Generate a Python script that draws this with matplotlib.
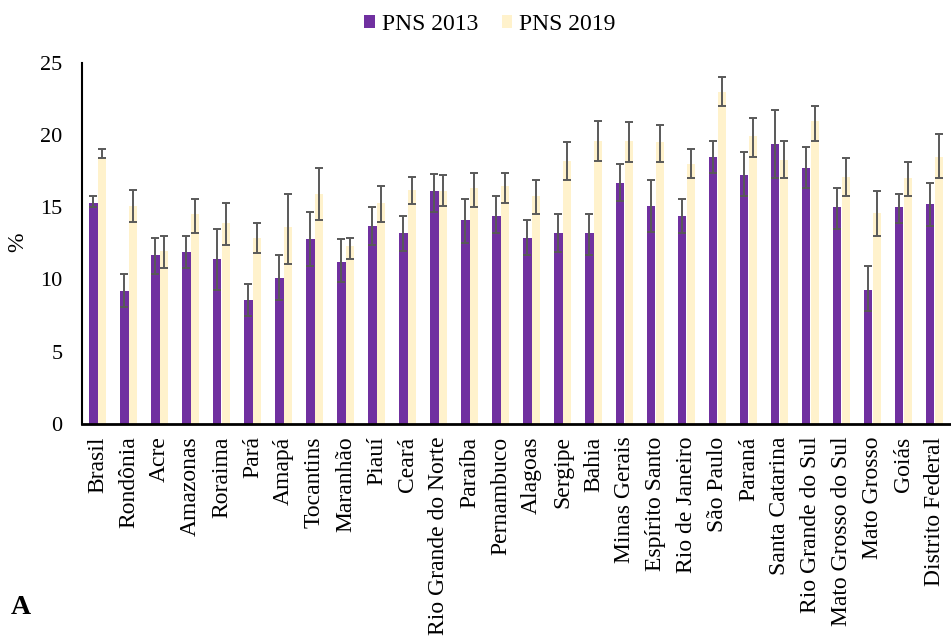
import numpy as np
import matplotlib
matplotlib.use("Agg")
import matplotlib.pyplot as plt

plt.rcParams['font.family'] = ['Liberation Serif', 'DejaVu Serif']

# Prevalence (%) by region with 95% confidence bounds
regions = ["Brasil", "Rondônia", "Acre", "Amazonas", "Roraima", "Pará", "Amapá",
           "Tocantins", "Maranhão", "Piauí", "Ceará", "Rio Grande do Norte",
           "Paraíba", "Pernambuco", "Alagoas", "Sergipe", "Bahia", "Minas Gerais",
           "Espírito Santo", "Rio de Janeiro", "São Paulo", "Paraná",
           "Santa Catarina", "Rio Grande do Sul", "Mato Grosso do Sul",
           "Mato Grosso", "Goiás", "Distrito Federal"]

pns2013 = [15.3, 9.2, 11.7, 11.9, 11.4, 8.6, 10.1, 12.8, 11.2, 13.7, 13.2, 16.1,
           14.1, 14.4, 12.9, 13.2, 13.2, 16.7, 15.1, 14.4, 18.5, 17.2, 19.4, 17.7,
           15.0, 9.3, 15.0, 15.2]
pns2013_lo = [15.0, 8.1, 10.4, 10.8, 9.3, 7.5, 8.6, 10.9, 9.8, 12.4, 12.0, 14.7,
              12.5, 13.2, 11.7, 11.9, 11.7, 15.4, 13.3, 13.2, 17.4, 15.8, 17.0,
              16.3, 13.5, 7.8, 13.9, 13.7]
pns2013_hi = [15.8, 10.4, 12.9, 13.0, 13.5, 9.7, 11.7, 14.7, 12.8, 15.0, 14.4,
              17.3, 15.6, 15.8, 14.1, 14.5, 14.5, 18.0, 16.9, 15.6, 19.6, 18.8,
              21.7, 19.2, 16.3, 10.9, 15.9, 16.7]

pns2019 = [18.5, 15.1, 12.0, 14.5, 13.9, 12.9, 13.6, 15.9, 12.3, 15.3, 16.2, 16.1,
           16.3, 16.5, 15.8, 18.2, 19.6, 19.6, 19.5, 18.0, 23.0, 19.9, 18.3, 21.0,
           17.1, 14.6, 17.0, 18.5]
pns2019_lo = [18.4, 14.0, 10.8, 13.2, 12.4, 11.8, 11.1, 14.1, 11.4, 14.0, 15.2,
              15.1, 15.0, 15.3, 14.5, 16.9, 18.2, 18.1, 18.1, 17.0, 22.0, 18.5,
              17.0, 19.6, 15.8, 13.0, 15.8, 17.0]
pns2019_hi = [19.0, 16.2, 13.0, 15.6, 15.3, 13.9, 15.9, 17.7, 12.9, 16.5, 17.1,
              17.2, 17.4, 17.4, 16.9, 19.5, 21.0, 20.9, 20.7, 19.0, 24.0, 21.2,
              19.6, 22.0, 18.4, 16.1, 18.1, 20.1]

yticks = [0, 5, 10, 15, 20, 25]

purple = "#7030A0"
cream = "#FFF2CC"
err_color = "#595959"

W, H = 951, 643
fig = plt.figure(figsize=(W / 100, H / 100), dpi=100)
ax = fig.add_axes([82 / W, 1 - 424 / H, (950 - 82) / W, (424 - 62.7) / H])

x = np.arange(len(regions))
w = 0.27
off = 0.135

a13 = np.array(pns2013)
a19 = np.array(pns2019)
err13 = [a13 - np.array(pns2013_lo), np.array(pns2013_hi) - a13]
err19 = [a19 - np.array(pns2019_lo), np.array(pns2019_hi) - a19]

ax.bar(x - off, a13, width=w, color=purple, label="PNS 2013", zorder=2)
ax.bar(x + off, a19, width=w, color=cream, label="PNS 2019", zorder=2)
ax.errorbar(x - off, a13, yerr=err13, fmt='none', ecolor=err_color,
            elinewidth=1.4, capsize=3.2, capthick=1.4, zorder=3)
ax.errorbar(x + off, a19, yerr=err19, fmt='none', ecolor=err_color,
            elinewidth=1.4, capsize=3.2, capthick=1.4, zorder=3)

ax.set_xlim(-0.5, len(regions) - 0.5)
ax.set_ylim(0, 25)
ax.set_yticks(yticks)
ax.set_yticklabels([str(t) for t in yticks], fontsize=16)
ax.set_xticks(x)
ax.set_xticklabels(regions, rotation=90, fontsize=17)
ax.tick_params(axis='x', length=0, pad=9)
ax.tick_params(axis='y', length=0, pad=14)

for s in ("top", "right"):
    ax.spines[s].set_visible(False)
ax.spines["left"].set_linewidth(1.5)
ax.spines["bottom"].set_linewidth(2.0)
ax.spines["left"].set_color("black")
ax.spines["bottom"].set_color("black")

# y-axis title placed in figure pixels
fig.text(17.5 / W, 1 - 242 / H, "%", fontsize=17, rotation=90,
         ha="center", va="center")

fig.legend(loc="upper center", bbox_to_anchor=(0.515, 1.0), ncol=2, frameon=False,
           fontsize=17, handlelength=0.45, handleheight=0.45, handletextpad=0.3,
           columnspacing=1.0, borderaxespad=0.2)

fig.text(21 / W, 1 - 608 / H, "A", fontsize=20, fontweight="bold",
         ha="center", va="center")

fig.savefig("out.png", dpi=100)
